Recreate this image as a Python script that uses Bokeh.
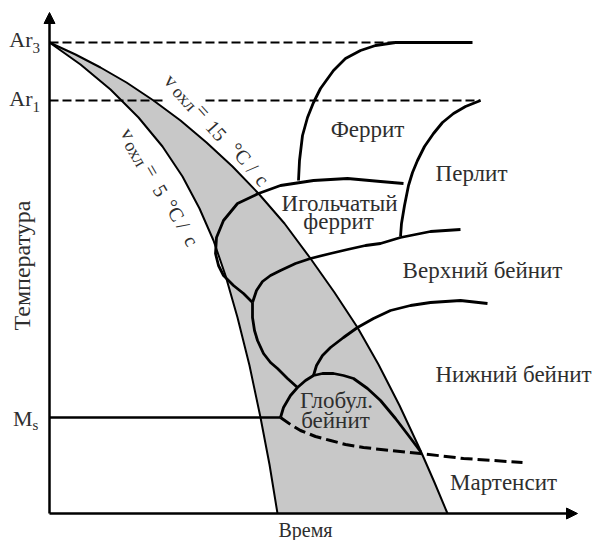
from bokeh.plotting import figure
from bokeh.models import Range1d, Arrow, NormalHead
from bokeh.core.properties import value
from bokeh.embed import file_html
from bokeh.resources import INLINE

# ---- data (time t, temperature T; arbitrary schematic units) ----
T_Ar3 = 471
T_Ar1 = 413
T_Ms = 96
t_Ar3_end = 345
t_Ar1_gap = [114, 156]
t_Ar1_end = 431
t_Ms_end = 231

cool15_t = [0, 26, 51, 77, 104, 131, 157, 183, 209, 235, 261, 285, 308, 329, 350, 371, 385, 398]
cool15_T = [471, 459, 446, 431, 413, 393, 371, 347, 320, 290, 255, 221, 186, 149, 108, 63, 31, 0]

cool5_t = [0, 31, 61, 89, 113, 133, 150, 164, 176, 188, 200, 211, 220, 228]
cool5_T = [471, 449, 424, 396, 367, 337, 305, 273, 238, 196, 148, 96, 49, 0]

ferrite_t = [249, 250, 253, 258, 264, 271, 284, 296, 311, 326, 346, 423]
ferrite_T = [333, 353, 378, 396, 411, 425, 443, 455, 463, 468, 471, 471]

pearlite_t = [431, 416, 404, 393, 384, 375, 368, 363, 359, 355, 352, 351]
pearlite_T = [413, 407, 400, 391, 380, 367, 353, 341, 328, 308, 290, 277]

acic_t = [354, 331, 298, 264, 231, 209, 188, 174, 167, 166, 169, 174, 184, 194, 203]
acic_T = [330, 332, 335, 333, 328, 320, 310, 293, 276, 260, 248, 238, 228, 220, 211]

ubain_top_t = [203, 207, 213, 221, 231, 246, 261, 281, 298, 316, 331, 351, 381, 411]
ubain_top_T = [211, 223, 232, 238, 243, 250, 255, 260, 264, 268, 270, 276, 282, 284]

ubain_left_t = [203, 203, 205, 208, 214, 221, 228, 238, 248]
ubain_left_T = [211, 196, 183, 173, 160, 151, 145, 135, 126]

dome_t = [231, 234, 241, 248, 256, 264, 273, 284, 294, 304, 318, 331, 346, 359, 371]
dome_T = [96, 106, 118, 126, 133, 138, 140, 140, 138, 135, 125, 113, 95, 78, 62]

lbain_t = [264, 267, 273, 281, 294, 308, 324, 341, 361, 381, 411, 438]
lbain_T = [138, 148, 158, 166, 176, 186, 195, 203, 208, 211, 213, 210]

mart_t = [231, 241, 251, 266, 281, 296, 314, 341, 371, 414, 473]
mart_T = [96, 89, 83, 77, 73, 69, 66, 63, 60, 55, 51]

region_text = ["Феррит", "Перлит", "Игольчатый", "феррит", "Верхний бейнит",
               "Глобул.", "бейнит", "Мартенсит"]
region_t = [318, 422, 290, 289, 433, 287, 286, 454]
region_T = [384, 340, 310, 292, 243, 113, 93, 31]

lower_bainite_text = "Нижний бейнит"
lower_bainite_pos = (386, 139)

tick_main = ["Ar", "Ar", "M"]
tick_sub = ["3", "1", "s"]
tick_main_T = [474, 415, 95]
tick_sub_T = [466, 407, 89]
tick_edge_t = -17

v15_text = ["v", "охл", "=", "15", "°C", "/", "c"]
v15_t = [122, 135, 154, 167, 191, 203, 213]
v15_T = [433, 415, 403, 383, 360, 345, 334]
v15_angle = -48

v5_text = ["v", "охл", "=", "5", "°C", "/", "c"]
v5_t = [79, 86, 103, 111, 125, 134, 142]
v5_T = [380, 360, 343, 323, 303, 288, 273]
v5_angle = -60

x_label = "Время"
y_label = "Температура"

FONT = value("Liberation Serif")
TXT = "#2e2e2e"

p = figure(width=593, height=540, x_range=Range1d(-49, 544), y_range=Range1d(-27, 513),
           output_backend="svg", toolbar_location=None, min_border=0,
           x_axis_type=None, y_axis_type=None)
p.outline_line_color = None
p.background_fill_color = "white"
p.border_fill_color = "white"

# shaded cooling band
band_t = cool15_t + cool5_t[::-1]
band_T = cool15_T + cool5_T[::-1]
p.patch(band_t, band_T, fill_color="#c8c8c8", line_color=None)

# dashed critical lines
p.line([0, t_Ar3_end], [T_Ar3, T_Ar3], line_color="black", line_width=2, line_dash="9 4")
p.line([0, t_Ar1_gap[0]], [T_Ar1, T_Ar1], line_color="black", line_width=2, line_dash="9 4")
p.line([t_Ar1_gap[1], t_Ar1_end], [T_Ar1, T_Ar1], line_color="black", line_width=2, line_dash="9 4")

# cooling curves
p.line(cool15_t, cool15_T, line_color="black", line_width=2, line_join="round")
p.line(cool5_t, cool5_T, line_color="black", line_width=2, line_join="round")

# transformation curves
for xs, ys in [(ferrite_t, ferrite_T), (pearlite_t, pearlite_T), (acic_t, acic_T),
               (ubain_top_t, ubain_top_T), (ubain_left_t, ubain_left_T),
               (dome_t, dome_T), (lbain_t, lbain_T)]:
    p.line(xs, ys, line_color="black", line_width=2.8, line_join="round")

p.line([0, t_Ms_end], [T_Ms, T_Ms], line_color="black", line_width=2.6)
p.line(mart_t, mart_T, line_color="black", line_width=3, line_dash="12 5")

# axes with arrows
p.add_layout(Arrow(x_start=0, y_start=0, x_end=0, y_end=501, line_width=2.5, line_color="black",
                   end=NormalHead(size=11, fill_color="black", line_color="black")))
p.add_layout(Arrow(x_start=0, y_start=0, x_end=528, y_end=0, line_width=2.5, line_color="black",
                   end=NormalHead(size=11, fill_color="black", line_color="black")))

# labels
p.text(region_t, region_T, text=region_text, text_font=FONT, text_font_size="23px",
       text_align="center", text_baseline="middle", text_color=TXT)
p.text([lower_bainite_pos[0]], [lower_bainite_pos[1]], text=[lower_bainite_text], text_font=FONT,
       text_font_size="23px", text_align="left", text_baseline="middle", text_color=TXT)

p.text([tick_edge_t] * 3, tick_main_T, text=tick_main, text_font=FONT, text_font_size="22px",
       text_align="right", text_baseline="middle", text_color=TXT)
p.text([tick_edge_t] * 3, tick_sub_T, text=tick_sub, text_font=FONT, text_font_size="15px",
       text_align="left", text_baseline="middle", text_color=TXT)

sizes = ["20px", "18px", "20px", "20px", "20px", "20px", "20px"]
for txts, ts, Ts, ang in [(v15_text, v15_t, v15_T, v15_angle), (v5_text, v5_t, v5_T, v5_angle)]:
    for s, tt, TT, fs in zip(txts, ts, Ts, sizes):
        p.text([tt], [TT], text=[s], text_font=FONT, text_font_size=fs, angle=ang, angle_units="deg",
               text_align="center", text_baseline="middle", text_color=TXT)

p.text([256], [-16], text=[x_label], text_font=FONT, text_font_size="20px",
       text_align="center", text_baseline="middle", text_color=TXT)
p.text([-28], [248], text=[y_label], text_font=FONT, text_font_size="24px", angle=90,
       angle_units="deg", text_align="center", text_baseline="middle", text_color=TXT)

open("out.html", "w").write(file_html(p, INLINE))
